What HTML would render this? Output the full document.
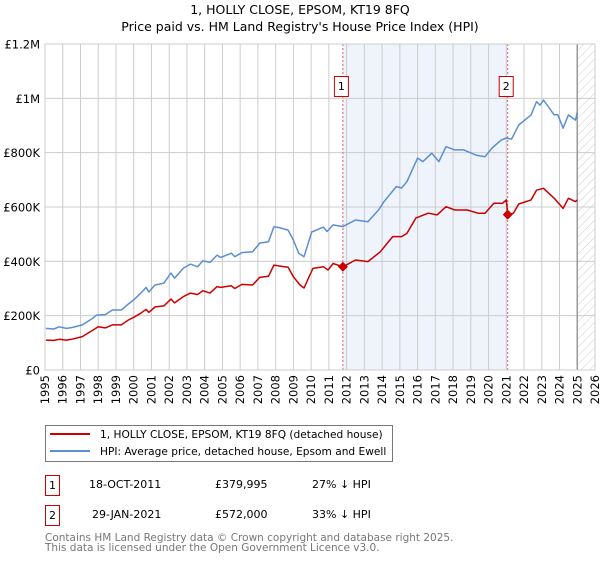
<!DOCTYPE html>
<html><head><meta charset="utf-8"><style>
body{margin:0;background:#fff;font-family:"DejaVu Sans","Liberation Sans",sans-serif;}
svg text{font-family:"DejaVu Sans","Liberation Sans",sans-serif;}
</style></head><body>
<svg id="c" width="600" height="560" viewBox="0 0 600 560" xmlns="http://www.w3.org/2000/svg">
<defs><pattern id="hatch" patternUnits="userSpaceOnUse" width="6" height="6" patternTransform="rotate(45)"><line x1="0" y1="0" x2="0" y2="6" stroke="#ccc" stroke-width="1"/></pattern></defs>
<text x="300" y="14" text-anchor="middle" font-size="12.5" fill="#000">1, HOLLY CLOSE, EPSOM, KT19 8FQ</text>
<text x="300" y="31" text-anchor="middle" font-size="12.5" fill="#000">Price paid vs. HM Land Registry's House Price Index (HPI)</text>
<g id="plot"></g>
<g>
<rect x="45.5" y="425.5" width="347" height="36" fill="#fff" stroke="#777"/>
<line x1="50" y1="434" x2="90" y2="434" stroke="#cc0000" stroke-width="2"/>
<text x="100" y="438" font-size="10.6">1, HOLLY CLOSE, EPSOM, KT19 8FQ (detached house)</text>
<line x1="50" y1="451" x2="90" y2="451" stroke="#5b8fd0" stroke-width="2"/>
<text x="100" y="455" font-size="10.6">HPI: Average price, detached house, Epsom and Ewell</text>
</g>
<g font-size="11">
<rect x="45.5" y="475.5" width="14" height="20" fill="#fff" stroke="#cc0000"/>
<text x="52.5" y="489" text-anchor="middle">1</text>
<text x="89" y="488">18-OCT-2011</text>
<text x="215" y="488">£379,995</text>
<text x="312" y="488">27% ↓ HPI</text>
<rect x="45.5" y="505.5" width="14" height="20" fill="#fff" stroke="#cc0000"/>
<text x="52.5" y="519" text-anchor="middle">2</text>
<text x="92" y="518">29-JAN-2021</text>
<text x="215" y="518">£572,000</text>
<text x="312" y="518">33% ↓ HPI</text>
</g>
<text x="45" y="541" font-size="10.5" fill="#777">Contains HM Land Registry data © Crown copyright and database right 2025.</text>
<text x="45" y="551" font-size="10.5" fill="#777">This data is licensed under the Open Government Licence v3.0.</text>
</svg>
<script>
const hpiYears=[1995.05,1995.5,1995.8,1996.2,1996.5,1997.1,1997.7,1997.9,1998.4,1998.8,1999.3,1999.7,2000.0,2000.4,2000.7,2000.85,2001.2,2001.7,2002.1,2002.3,2002.8,2003.2,2003.6,2003.9,2004.3,2004.7,2004.9,2005.5,2005.7,2006.1,2006.7,2007.1,2007.6,2007.9,2008.2,2008.7,2009.0,2009.3,2009.6,2010.03,2010.69,2010.9,2011.24,2011.79,2012.5,2013.2,2013.8,2014.1,2014.8,2015.1,2015.4,2016.0,2016.3,2016.8,2017.2,2017.6,2018.1,2018.6,2019.3,2019.8,2020.2,2020.7,2021.0,2021.3,2021.7,2022.4,2022.7,2022.9,2023.1,2023.7,2023.9,2024.2,2024.5,2024.9,2025.0];
const hpiValues=[153,151,159,153,156,166,191,202,204,221,221,243,258,283,304,287,313,320,357,338,375,390,380,402,396,423,414,430,417,432,435,467,472,527,524,515,478,430,417,508,526,510,534,528,552,546,589,619,675,670,693,780,767,798,767,822,810,810,791,785,817,846,854,850,902,939,988,975,994,939,940,890,939,920,950];
const propYears=[1995.05,1995.5,1995.8,1996.2,1996.5,1997.1,1997.7,1998.0,1998.4,1998.8,1999.3,1999.7,2000.0,2000.4,2000.7,2000.85,2001.2,2001.7,2002.1,2002.3,2002.8,2003.2,2003.6,2003.9,2004.3,2004.7,2004.9,2005.5,2005.7,2006.1,2006.7,2007.1,2007.6,2007.9,2008.2,2008.7,2009.0,2009.37,2009.6,2010.1,2010.7,2010.95,2011.24,2011.79,2012.5,2013.2,2013.9,2014.6,2015.1,2015.4,2015.9,2016.6,2017.1,2017.6,2018.1,2018.8,2019.4,2019.8,2020.3,2020.8,2021.0,2021.08,2021.4,2021.7,2022.4,2022.7,2023.1,2023.7,2024.2,2024.5,2024.9,2025.0];
const propValues=[110,109,113,110,113,123,147,159,155,166,166,184,194,209,223,212,232,236,261,247,270,283,278,292,283,307,304,310,300,315,313,341,345,386,383,378,343,313,302,374,380,368,392,380,405,399,435,491,491,503,559,577,571,601,589,589,577,577,614,614,626,570,577,611,626,662,669,632,595,632,620,626];
const saleYears=[2011.79,2021.08];
const saleValues=[379.995,572];
const saleLabels=["1","2"];
const yTicks=[0,200,400,600,800,1000,1200];
const yTickLabels=["£0","£200K","£400K","£600K","£800K","£1M","£1.2M"];
const xTicks=[1995,1996,1997,1998,1999,2000,2001,2002,2003,2004,2005,2006,2007,2008,2009,2010,2011,2012,2013,2014,2015,2016,2017,2018,2019,2020,2021,2022,2023,2024,2025,2026];

const X0=45,X1=595,Y0=370,Y1=44,XMIN=1995,XMAX=2026,YMAX=1200;
const xs=v=>X0+(v-XMIN)/(XMAX-XMIN)*(X1-X0);
const ys=v=>Y0-v/YMAX*(Y0-Y1);
const NS="http://www.w3.org/2000/svg";
const g=document.getElementById('plot');
function mk(t,a){const e=document.createElementNS(NS,t);for(const k in a)e.setAttribute(k,a[k]);g.appendChild(e);return e;}

let e=mk('rect',{x:xs(saleYears[0]),y:Y1,width:xs(saleYears[1])-xs(saleYears[0]),height:Y0-Y1,fill:'#eef3fc'});


e=mk('rect',{x:xs(2025),y:Y1,width:X1-xs(2025),height:Y0-Y1,fill:'url(#hatch)'});


xTicks.forEach(t=>{
  const l=mk('line',{x1:xs(t),x2:xs(t),y1:Y1,y2:Y0,stroke:'#ccc','stroke-width':1});
  
  
  const tx=mk('text',{x:0,y:0,'font-size':11.5,'text-anchor':'end',transform:`translate(${xs(t)+4},${Y0+5}) rotate(-90)`});
  tx.textContent=t;
  
  
});
yTicks.forEach((t,i)=>{
  const l=mk('line',{x1:X0,x2:X1,y1:ys(t),y2:ys(t),stroke:'#ccc','stroke-width':1});
  
  
  const tx=mk('text',{x:40,y:ys(t)+4.5,'font-size':11.5,'text-anchor':'end'});
  tx.textContent=yTickLabels[i];
  
  
});
e=mk('line',{x1:xs(2025),x2:xs(2025),y1:Y1,y2:Y0,stroke:'#999','stroke-width':1.5});


saleYears.forEach((s,i)=>{
  const l=mk('line',{x1:xs(s),x2:xs(s),y1:Y1,y2:Y0,stroke:'#e06060','stroke-width':1,'stroke-dasharray':'2,2'});
  
  
});
function path(xsA,vs,c,name){
  const d=xsA.map((x,i)=>(i?'L':'M')+xs(x).toFixed(1)+','+ys(vs[i]).toFixed(1)).join('');
  const p=mk('path',{d:d,fill:'none',stroke:c,'stroke-width':1.5,'stroke-linejoin':'round'});
  
  
}
path(hpiYears,hpiValues,'#5b8fd0','hpi-line');
path(propYears,propValues,'#cc0000','property-line');
saleYears.forEach((s,i)=>{
  const cx=xs(s),cy=ys(saleValues[i]);
  const p=mk('path',{d:`M${cx},${cy-5}L${cx+5},${cy}L${cx},${cy+5}L${cx-5},${cy}Z`,fill:'#cc0000'});
  
  
  const b=mk('rect',{x:cx-8.5,y:76.5,width:14,height:20,fill:'#fff',stroke:'#cc0000'});
  
  
  const t=mk('text',{x:cx-1.5,y:90,'font-size':11,'text-anchor':'middle'});
  t.textContent=saleLabels[i];
  
  
});
e=mk('rect',{x:X0,y:Y1,width:X1-X0,height:Y0-Y1,fill:'none',stroke:'#ccc'});


</script>
</body></html>
